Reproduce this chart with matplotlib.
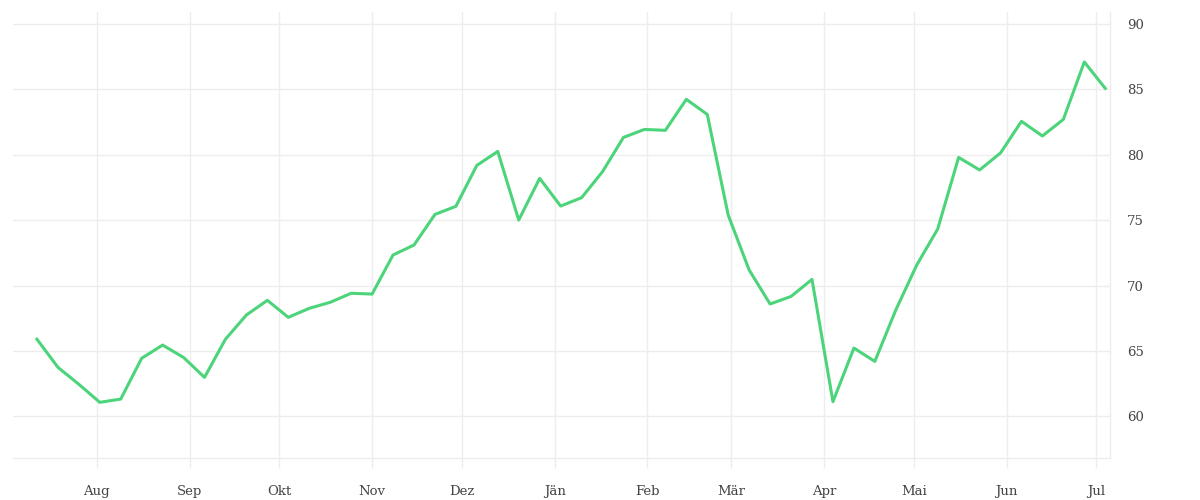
import datetime as dt
import matplotlib
matplotlib.use("Agg")
import matplotlib.pyplot as plt

# weekly values, starting 12 Jul
start = dt.date(2022, 7, 12)
values = [
    65.9, 63.75, 62.45, 61.07, 61.32, 64.44, 65.45, 64.5, 62.98, 65.9,
    67.75, 68.87, 67.57, 68.26, 68.72, 69.41, 69.35, 72.34, 73.1, 75.44,
    76.06, 79.19, 80.26, 75.01, 78.2, 76.08, 76.72, 78.71, 81.33, 81.94,
    81.87, 84.24, 83.09, 75.39, 71.19, 68.59, 69.17, 70.47, 61.12, 65.22,
    64.2, 68.13, 71.57, 74.32, 79.8, 78.84, 80.14, 82.56, 81.44, 82.71,
    87.1, 85.08,
]
dates = [start + dt.timedelta(weeks=i) for i in range(len(values))]

month_labels = ["Aug", "Sep", "Okt", "Nov", "Dez", "Jän",
                "Feb", "Mär", "Apr", "Mai", "Jun", "Jul"]
month_ticks = [dt.date(2022 + (m > 12), (m - 1) % 12 + 1, 1) for m in range(8, 20)]
y_ticks = [60, 65, 70, 75, 80, 85, 90]

grid_col = "#ededed"
text_col = "#444444"

fig = plt.figure(figsize=(12, 5), dpi=100)
ax = fig.add_axes([13 / 1200, 1 - 458.3 / 500, (1110 - 13) / 1200, (458.3 - 12) / 500])

ax.plot(dates, values, color="#4cd47a", lw=2.2, zorder=3)

ax.set_xlim(dt.datetime(2022, 7, 4, 0), dt.datetime(2023, 7, 5, 14))
ax.set_ylim(56.79, 90.92)

ax.set_xticks(month_ticks)
ax.set_xticklabels(month_labels)
ax.set_yticks(y_ticks)
ax.yaxis.tick_right()

ax.grid(True, color=grid_col, lw=1)
for s in ["top", "left"]:
    ax.spines[s].set_visible(False)
for s in ["bottom", "right"]:
    ax.spines[s].set_color(grid_col)
    ax.spines[s].set_linewidth(1)

ax.tick_params(axis="x", length=7, color=grid_col, width=1, pad=12,
               labelsize=9.5, labelcolor=text_col)
ax.tick_params(axis="y", length=0, pad=12, labelsize=9.5, labelcolor=text_col)
for lab in ax.get_xticklabels() + ax.get_yticklabels():
    lab.set_fontfamily("DejaVu Serif")

fig.savefig("out.png", dpi=100)
